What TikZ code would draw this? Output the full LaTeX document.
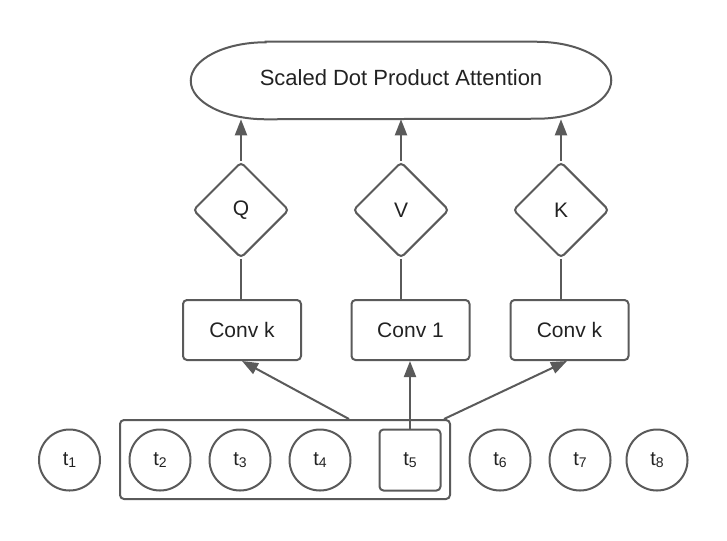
\documentclass[tikz,border=0pt]{standalone}
\usepackage{fontspec}
\setmainfont{Liberation Sans}
\usetikzlibrary{shapes.geometric,arrows.meta,calc}
\definecolor{lineC}{RGB}{90,90,90}
\definecolor{textC}{RGB}{34,34,34}
\newcommand{\tok}[1]{t\raisebox{-2pt}{\fontsize{10.5pt}{12pt}\selectfont #1}}
\tikzset{
  line/.style={draw=lineC, line width=1.5pt},
  arr/.style={line, -{Triangle[length=12pt,width=9pt]}},
  lbl/.style={text=textC, font=\fontsize{15.75pt}{18pt}\selectfont},
  diam/.style={line, lbl, diamond, aspect=1, inner sep=0pt, minimum width=72pt, minimum height=72pt, rounded corners=3pt},
  convbox/.style={line, lbl, rectangle, rounded corners=3pt, minimum width=88.5pt, minimum height=45pt, inner sep=0pt},
  tokcirc/.style={line, text=textC, font=\fontsize{15pt}{18pt}\selectfont, circle, minimum size=45.75pt, inner sep=0pt},
  tokbox/.style={line, text=textC, font=\fontsize{15pt}{18pt}\selectfont, rectangle, rounded corners=3pt, minimum width=45.75pt, minimum height=45.75pt, inner sep=0pt},
  grpbox/.style={line, rectangle, rounded corners=3pt, minimum width=247.5pt, minimum height=59.25pt, inner sep=0pt}
}
\begin{document}
\begin{tikzpicture}[x=0.75pt,y=-0.75pt]
\useasboundingbox (0,0) rectangle (727,540);
% top stadium
\node[minimum width=315pt, minimum height=57.75pt, inner sep=0pt] (sdpa) at (401,80.5) {};
\node[lbl, font=\fontsize{16.5pt}{19pt}\selectfont, inner sep=0pt] (sdpatxt) at (401,77.5) {Scaled Dot Product Attention};
\draw[line] ($(sdpa.north west)+(75,0)$) -- ($(sdpa.north east)+(-75,0)$)
  arc[start angle=90, end angle=-90, x radius=56.25pt, y radius=28.875pt]
  -- ($(sdpa.south west)+(75,0)$)
  arc[start angle=270, end angle=90, x radius=56.25pt, y radius=28.875pt] -- cycle;
% diamonds
\node[diam] (Q) at (241,210) {Q};
\node[diam] (V) at (401,210) {V};
\node[diam] (K) at (561,210) {K};
% conv boxes
\node[convbox] (convL) at (242,330) {Conv k};
\node[convbox] (convM) at (410.5,330) {Conv 1};
\node[convbox] (convR) at (569.5,330) {Conv k};
% group box
\node[grpbox] (grp) at (285,459.5) {};
% tokens
\node[tokcirc] (t1) at (69.5,460) {\tok{1}};
\node[tokcirc] (t2) at (160,460) {\tok{2}};
\node[tokcirc] (t3) at (240,460) {\tok{3}};
\node[tokcirc] (t4) at (320,460) {\tok{4}};
\node[tokbox] (t5) at (410,460) {\tok{5}};
\node[tokcirc] (t6) at (500,460) {\tok{6}};
\node[tokcirc] (t7) at (580,460) {\tok{7}};
\node[tokcirc] (t8) at (657,460) {\tok{8}};
% connectors
\draw[arr] (Q.north) -- (Q.north |- sdpa.south);
\draw[arr] (V.north) -- (V.north |- sdpa.south);
\draw[arr] (K.north) -- (K.north |- sdpa.south);
\draw[line] (Q.south) -- (Q.south |- convL.north);
\draw[line] (V.south) -- (V.south |- convM.north);
\draw[line] (K.south) -- (K.south |- convR.north);
\coordinate (gL) at ($(grp.north west)+(230,0)$);
\coordinate (gR) at ($(grp.north east)+(-7,0)$);
\draw[arr] (gL) -- (convL.south);
\draw[arr] (t5.north) -- (t5.north |- convM.south);
\draw[arr] (gR) -- ($(convR.south)+(-2.5,0)$);
\end{tikzpicture}
\end{document}
